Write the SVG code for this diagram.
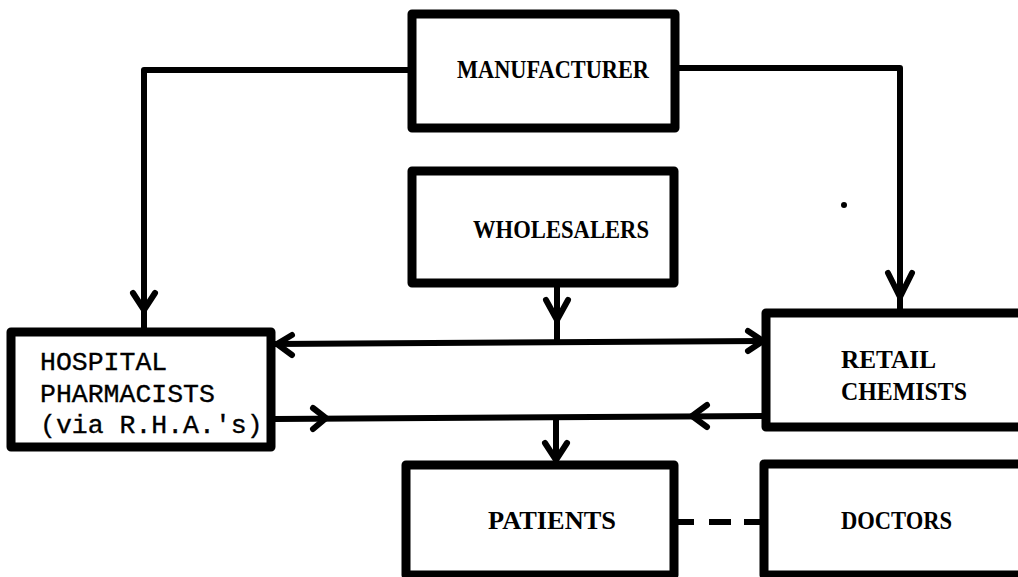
<svg xmlns="http://www.w3.org/2000/svg" width="1018" height="577" viewBox="0 0 1018 577">
<style>
.box{fill:none;stroke:#000;stroke-width:9;stroke-linejoin:round}
.ln{fill:none;stroke:#000;stroke-width:6;stroke-linejoin:round}
.ah{fill:none;stroke:#000;stroke-width:6;stroke-linecap:round;stroke-linejoin:miter}
.t{font-family:"Liberation Serif","Times New Roman",serif;font-size:25.5px;font-weight:bold;fill:#000}
.tr{font-family:"Liberation Mono","Courier New",monospace;font-size:26.5px;font-weight:normal;fill:#000;stroke:#000;stroke-width:0.35}
</style>
<rect width="1018" height="577" fill="#fff"/>
<g id="connectors">
<path class="ln" d="M412,70 H144 V329"/>
<path class="ah" d="M133,293 L144,310 L155,293"/>
<path class="ln" d="M675,68 H900 V312"/>
<path class="ah" d="M888,273 L900,297 L912,273"/>
<path class="ln" d="M557,287 V342"/>
<path class="ah" d="M546,300 L557,320 L568,300"/>
<path class="ln" d="M275,344 L765,341"/>
<path class="ah" d="M292,335 L277,344 L292,355"/>
<path class="ah" d="M748,331 L763,341 L748,351"/>
<path class="ln" d="M275,419 L765,416"/>
<path class="ah" d="M313,408 L326,418 L313,429"/>
<path class="ah" d="M707,405 L692,416 L707,427"/>
<path class="ln" d="M556,417 V463"/>
<path class="ah" d="M545,443 L556,460 L567,443"/>
<path class="ln" d="M674,522 H764" stroke-dasharray="20 15 22 13 30"/>
</g>
<g id="manufacturer">
<rect class="box" x="412" y="14" width="263" height="114"/>
<text class="t" x="457" y="78" textLength="192" lengthAdjust="spacingAndGlyphs">MANUFACTURER</text>
</g>
<g id="wholesalers">
<rect class="box" x="412" y="171" width="262" height="112"/>
<text class="t" x="473" y="238" textLength="176" lengthAdjust="spacingAndGlyphs">WHOLESALERS</text>
</g>
<g id="hospital">
<rect class="box" x="11" y="332" width="260" height="115"/>
<text class="tr" x="40" y="370">HOSPITAL</text>
<text class="tr" x="40" y="402">PHARMACISTS</text>
<text class="tr" x="40" y="433">(via R.H.A.'s)</text>
</g>
<g id="retail">
<rect class="box" x="766" y="313" width="280" height="114"/>
<text class="t" x="841" y="368" textLength="95" lengthAdjust="spacingAndGlyphs">RETAIL</text>
<text class="t" x="841" y="400" textLength="126" lengthAdjust="spacingAndGlyphs">CHEMISTS</text>
</g>
<g id="patients">
<rect class="box" x="406" y="465" width="268" height="110"/>
<text class="t" x="488" y="529" textLength="128" lengthAdjust="spacingAndGlyphs">PATIENTS</text>
</g>
<g id="doctors">
<rect class="box" x="764" y="464" width="280" height="111"/>
<text class="t" x="841" y="529" textLength="111" lengthAdjust="spacingAndGlyphs">DOCTORS</text>
</g>
<circle cx="844" cy="205" r="3" fill="#000"/>
</svg>
